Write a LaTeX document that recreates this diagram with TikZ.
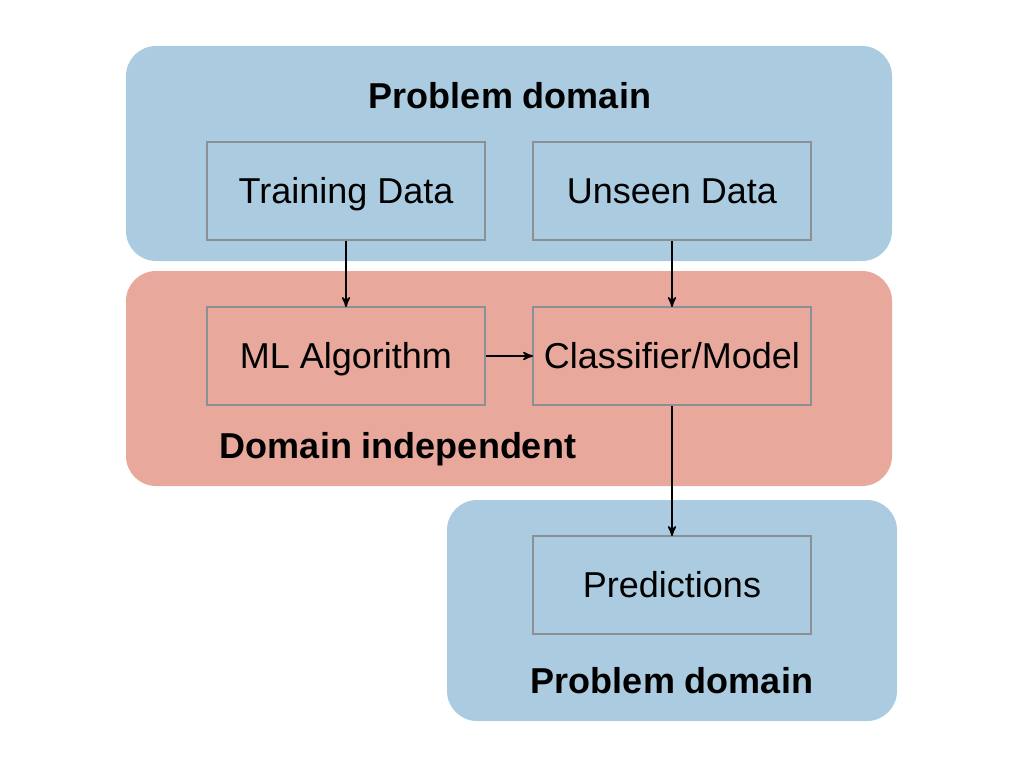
\documentclass[tikz,border=0pt]{standalone}
\usepackage{fontspec}
\setmainfont{Liberation Sans}
\usetikzlibrary{arrows,matrix,positioning}
\definecolor{domblue}{HTML}{ABCCE0}
\definecolor{domred}{HTML}{E8A99C}
\definecolor{boxgray}{HTML}{8A9096}
\tikzset{>=stealth',
panel/.style={rounded corners=15pt,draw=none},
stage/.style={draw=boxgray,line width=0.8pt,minimum width=139.2pt,
  minimum height=49.2pt,inner sep=0pt,anchor=center,
  text height=16.4pt,text depth=3.5pt,
  font=\fontsize{18}{21}\selectfont},
title/.style={font=\fontsize{18}{21}\selectfont\bfseries},
flow/.style={->,line width=0.8pt,shorten >=-0.5pt}}
\begin{document}
\begin{tikzpicture}[x=0.5pt,y=-0.5pt]
  \useasboundingbox (0,0) rectangle (1024,768);
  \fill[panel,domblue] (126,46) rectangle (892,261);
  \fill[panel,domred] (126,271) rectangle (892,486);
  \fill[panel,domblue] (447,500) rectangle (897,721);
  \node[title] (top) at (510,96) {Problem domain};
  \node[title] (mid) at (398,449) {Domain independent};
  \node[title] (bot) at (672,681) {Problem domain};
  \matrix (m) [matrix of nodes, nodes={stage}, row sep=32.5pt,
    column sep=23pt] at (509,388)
    { Training Data & Unseen Data \\
      ML Algorithm  & Classifier/Model \\[32pt]
                    & Predictions \\ };
  \draw[flow] (m-1-1) -- (m-2-1);
  \draw[flow] (m-1-2) -- (m-2-2);
  \draw[flow] (m-2-1) -- (m-2-2);
  \draw[flow] (m-2-2) -- (m-3-2);
\end{tikzpicture}
\end{document}
